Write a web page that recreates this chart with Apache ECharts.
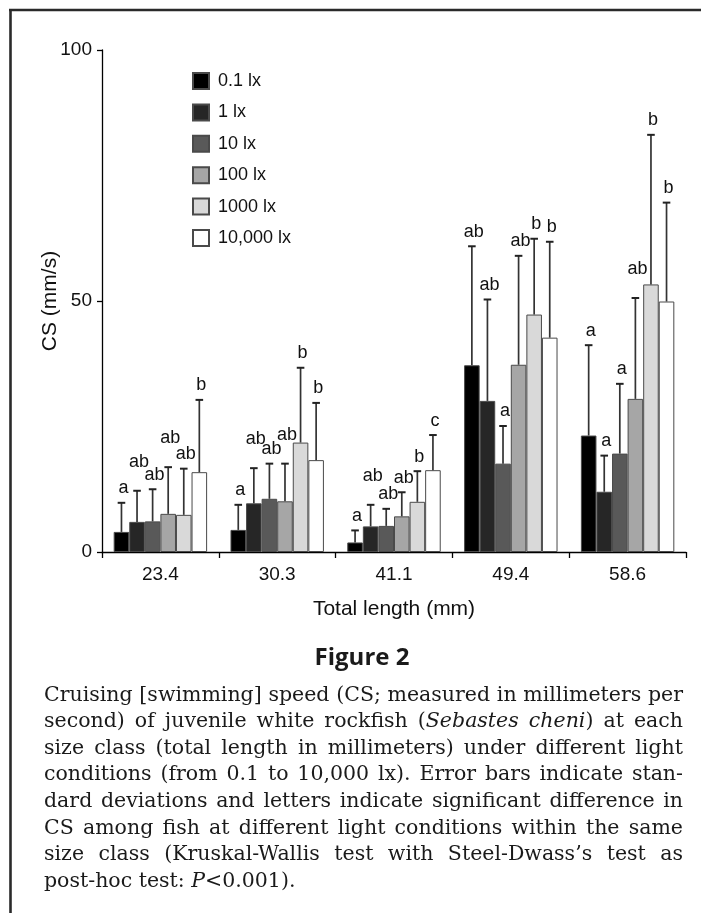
<!DOCTYPE html>
<html><head><meta charset="utf-8">
<script src="https://cdn.jsdelivr.net/npm/echarts@6/dist/echarts.min.js"></script>
<style>
html,body{margin:0;padding:0;background:#fff;}
#wrap{position:relative;width:701px;height:913px;overflow:hidden;background:#fff;}
#chart{position:absolute;left:0;top:0;width:701px;height:913px;}
#caption{position:absolute;left:44px;top:0;width:639px;font-family:'DejaVu Serif',serif;font-size:20.5px;color:#1a1a1a;}
.ln{position:absolute;left:0;width:639px;height:27px;line-height:27px;text-align:justify;text-align-last:justify;}
.ln.last{text-align-last:left;}
</style></head>
<body>
<div id="wrap"><div id="chart"></div><div id="caption"></div></div>
<script>
// ---- data ----
const categories = ['23.4', '30.3', '41.1', '49.4', '58.6'];
const lightLevels = ['0.1 lx', '1 lx', '10 lx', '100 lx', '1000 lx', '10,000 lx'];

const cs_0_1lx   = [4.0, 4.4, 1.9, 37.2, 23.2];
const cs_1lx     = [6.0, 9.7, 5.1, 30.1, 12.0];
const cs_10lx    = [6.1, 10.6, 5.2, 17.6, 19.6];
const cs_100lx   = [7.6, 10.1, 7.1, 37.3, 30.5];
const cs_1000lx  = [7.4, 21.8, 10.0, 47.3, 53.3];
const cs_10000lx = [15.9, 18.3, 16.3, 42.7, 49.9];

const sd_0_1lx   = [5.8, 5.0, 2.4, 23.7, 18.0];
const sd_1lx     = [6.2, 7.0, 4.3, 20.2, 7.2];
const sd_10lx    = [6.4, 7.0, 3.4, 7.5, 13.9];
const sd_100lx   = [9.3, 7.5, 4.8, 21.7, 20.1];
const sd_1000lx  = [9.2, 14.9, 6.1, 15.1, 29.8];
const sd_10000lx = [14.4, 11.4, 7.0, 19.1, 19.7];

const letters_0_1lx   = ['a', 'a', 'a', 'ab', 'a'];
const letters_1lx     = ['ab', 'ab', 'ab', 'ab', 'a'];
const letters_10lx    = ['ab', 'ab', 'ab', 'a', 'a'];
const letters_100lx   = ['ab', 'ab', 'ab', 'ab', 'ab'];
const letters_1000lx  = ['ab', 'b', 'b', 'b', 'b'];
const letters_10000lx = ['b', 'b', 'c', 'b', 'b'];

const yTicks = [0, 50, 100];

const captionLines = [
  'Cruising [swimming] speed (CS; measured in millimeters per',
  'second) of juvenile white rockfish (<i>Sebastes cheni</i>) at each',
  'size class (total length in millimeters) under different light',
  'conditions (from 0.1 to 10,000 lx). Error bars indicate stan-',
  'dard deviations and letters indicate significant difference in',
  'CS among fish at different light conditions within the same',
  'size class (Kruskal-Wallis test with Steel-Dwass\u2019s test as',
  'post-hoc test: <i>P</i>&lt;0.001).'
];

// ---- layout / style ----
const means = [cs_0_1lx, cs_1lx, cs_10lx, cs_100lx, cs_1000lx, cs_10000lx];
const sds = [sd_0_1lx, sd_1lx, sd_10lx, sd_100lx, sd_1000lx, sd_10000lx];
const letters = [letters_0_1lx, letters_1lx, letters_10lx, letters_100lx, letters_1000lx, letters_10000lx];
// letter lift level (layout only): 1 = raised to avoid overlap
const letterRaise = [
  [0,0,0,0,0],[1,1,1,0,0],[0,0,0,0,0],[1,1,0,0,1],[0,0,0,0,0],[0,0,0,0,0]
];
const colors = ['#000000', '#262626', '#595959', '#a6a6a6', '#d9d9d9', '#ffffff'];
const FONT = 'Liberation Sans, Arial, sans-serif';
const GAP = 0.2;

const cap = document.getElementById('caption');
captionLines.forEach((t, i) => {
  const d = document.createElement('div');
  d.className = 'ln' + (i === captionLines.length - 1 ? ' last' : '');
  d.style.top = (694 + 26.6 * i - 13.5) + 'px';
  d.innerHTML = t;
  cap.appendChild(d);
});

const chart = echarts.init(document.getElementById('chart'), null, {renderer: 'canvas'});

const barSeries = lightLevels.map((name, s) => ({
  name: name,
  type: 'bar',
  data: means[s],
  barGap: '0%',
  barCategoryGap: (GAP * 100) + '%',
  itemStyle: {color: colors[s], borderColor: '#4a4a4a', borderWidth: 1},
  emphasis: {disabled: true},
  z: 2
}));

const errData = [];
means.forEach((arr, s) => arr.forEach((m, c) => errData.push([c, m, m + sds[s][c], s])));

const errSeries = {
  type: 'custom',
  data: errData,
  encode: {x: 0, y: 2},
  z: 5,
  silent: true,
  renderItem: function (params, api) {
    const c = api.value(0), m = api.value(1), top = api.value(2), s = api.value(3);
    const cw = api.size([1, 0])[0];
    const gw = cw * (1 - GAP);
    const bw = gw / lightLevels.length;
    const cx = api.coord([c, 0])[0] - gw / 2 + (s + 0.5) * bw;
    const y0 = api.coord([c, m])[1];
    const y1 = api.coord([c, top])[1];
    const lift = letterRaise[s][c] ? 29 : 14.5;
    const st = {stroke: '#333', lineWidth: 1.7};
    return {
      type: 'group',
      children: [
        {type: 'line', shape: {x1: cx, y1: y0, x2: cx, y2: y1}, style: st},
        {type: 'line', shape: {x1: cx - 3.8, y1: y1, x2: cx + 3.8, y2: y1}, style: {stroke: '#222', lineWidth: 2}},
        {type: 'text', x: cx + 2, y: y1 - lift,
         style: {text: letters[s][c], fill: '#111', font: '18px ' + FONT, textAlign: 'center', textVerticalAlign: 'middle'}}
      ]
    };
  }
};

const option = {
  animation: false,
  backgroundColor: '#fff',
  textStyle: {fontFamily: FONT},
  grid: {left: 102, right: 15, top: 50, bottom: 361},
  legend: {
    data: lightLevels,
    orient: 'vertical',
    left: 192, top: 72,
    padding: 0,
    itemWidth: 16, itemHeight: 16, itemGap: 13.4,
    icon: 'rect',
    selectedMode: false,
    textStyle: {fontSize: 18, fontFamily: FONT, color: '#111', padding: [0, 0, 0, 4], lineHeight: 16}
  },
  xAxis: {
    type: 'category',
    data: categories,
    name: 'Total length (mm)',
    nameLocation: 'middle',
    nameGap: 47,
    nameMoveOverlap: false,
    nameTextStyle: {fontSize: 21, color: '#111', fontFamily: FONT},
    axisLine: {lineStyle: {color: '#000', width: 1.3}},
    axisTick: {show: true, length: 6, lineStyle: {color: '#000', width: 1.3}},
    axisLabel: {fontSize: 19, color: '#111', margin: 13, fontFamily: FONT},
    splitLine: {show: false}
  },
  yAxis: {
    type: 'value',
    min: yTicks[0], max: yTicks[yTicks.length - 1], interval: yTicks[1] - yTicks[0],
    name: 'CS (mm/s)',
    nameLocation: 'middle',
    nameRotate: 90,
    nameGap: 41,
    nameMoveOverlap: false,
    nameTextStyle: {fontSize: 21, color: '#111', fontFamily: FONT},
    axisLine: {show: true, lineStyle: {color: '#000', width: 1.3}},
    axisTick: {show: true, length: 5, lineStyle: {color: '#000', width: 1.3}},
    axisLabel: {fontSize: 19, color: '#111', margin: 10, fontFamily: FONT},
    splitLine: {show: false}
  },
  graphic: [
    {type: 'line', shape: {x1: 9, y1: 10, x2: 701, y2: 10}, style: {stroke: '#2a2a2a', lineWidth: 2.6}},
    {type: 'line', shape: {x1: 10.5, y1: 9, x2: 10.5, y2: 913}, style: {stroke: '#2a2a2a', lineWidth: 2.6}},
    {type: 'text', style: {text: 'Figure 2', font: 'bold 24px "Open Sans", sans-serif', fill: '#1a1a1a', textAlign: 'center', textVerticalAlign: 'middle'}, position: [362, 658]}
  ],
  series: barSeries.concat([errSeries])
};
chart.setOption(option);
</script>
</body></html>
